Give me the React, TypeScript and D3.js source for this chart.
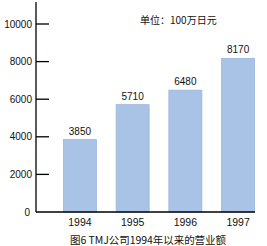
import React from "react";
import * as d3 from "d3";

const years = ["1994", "1995", "1996", "1997"];
const sales = [3850, 5710, 6480, 8170];
const yTicks = [0, 2000, 4000, 6000, 8000, 10000];
const unitLabel = "单位：100万日元";
const title = "图6 TMJ公司1994年以来的营业额";

export default function App() {
  const W = 267, H = 246;
  const x = d3.scaleBand<string>().domain(years).range([36, 282]).paddingInner(0.374).paddingOuter(0.52);
  const y = d3.scaleLinear().domain([0, 10000]).range([212, 24]);
  const font = "'Liberation Sans', Arial, 'Noto Sans CJK SC', sans-serif";
  return (
    <svg width={W} height={H} style={{ position: "absolute", left: 0, top: 0, background: "#fff" }} fontFamily={font}>
      {sales.map((v, i) => (
        <g key={years[i]}>
          <rect x={x(years[i])} y={y(v)} width={x.bandwidth()} height={y(0) - y(v)} fill="#a8c3e6" stroke="#9cb6dc" strokeWidth={0.8} />
          <text x={(x(years[i]) as number) + x.bandwidth() / 2} y={y(v) - 5} textAnchor="middle" fontSize={10} fill="#111">{v}</text>
          <text x={(x(years[i]) as number) + x.bandwidth() / 2} y={226} textAnchor="middle" fontSize={10.5} fill="#111">{years[i]}</text>
        </g>
      ))}
      <line x1={36} x2={36} y1={2} y2={212} stroke="#000" strokeWidth={1.3} />
      <line x1={36} x2={255} y1={212} y2={212} stroke="#000" strokeWidth={1.3} />
      {yTicks.map(t => (
        <g key={t}>
          {t > 0 && <line x1={36} x2={49} y1={y(t)} y2={y(t)} stroke="#000" strokeWidth={1.3} />}
          <text x={t === 0 ? 30 : 32} y={y(t) + 3.5} textAnchor="end" fontSize={10} fill="#111">{t}</text>
        </g>
      ))}
      <text x={140} y={24} fontSize={10} fill="#111" fontFamily="'Noto Sans CJK SC', sans-serif">{unitLabel}</text>
      <text x={70} y={244} fontSize={10.5} fill="#111" fontFamily="'Noto Sans CJK SC', sans-serif" textLength={156} lengthAdjust="spacing">{title}</text>
    </svg>
  );
}
